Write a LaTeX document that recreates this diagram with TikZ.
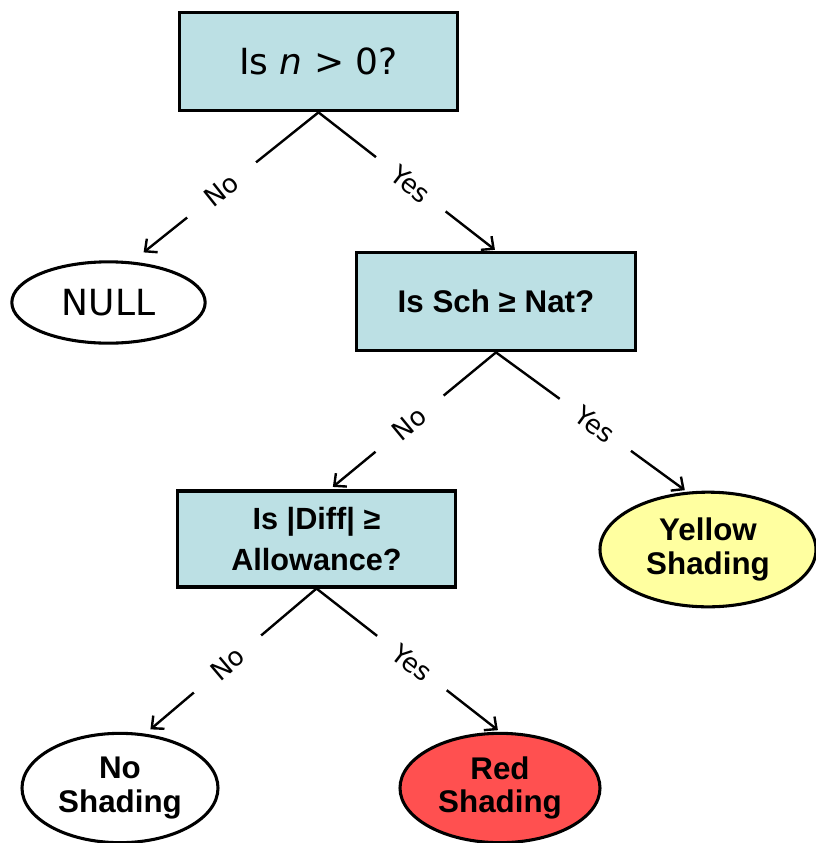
\documentclass[tikz,border=0pt]{standalone}
\usepackage{fontspec}
\setmainfont{DejaVu Sans}
\newfontfamily\headfont{Liberation Sans}
\usetikzlibrary{arrows.meta,shapes.geometric}

\definecolor{boxblue}{RGB}{188,224,228}
\definecolor{leafyellow}{RGB}{255,255,160}
\definecolor{leafred}{RGB}{255,80,80}

\tikzset{
	question/.style={rectangle, draw, line width=2.3pt, fill=boxblue, minimum width=209pt, minimum height=74pt, align=center},
	leaf/.style={ellipse, draw, line width=2.3pt, fill=white, align=center},
	strong/.style={font=\headfont\bfseries\fontsize{23.5}{25}\selectfont},
	link/.style={line width=1.8pt, -{Straight Barb[length=7pt,width=13pt]}},
	answer/.style={sloped, pos=0.52, fill=white, minimum width=66pt, inner sep=1pt, font=\fontsize{19.5}{21}\selectfont}
}

\begin{document}
\begin{tikzpicture}[x=0.75pt,y=-0.75pt]
	\useasboundingbox (0,0) rectangle (816,843);

	\node (qn) [question, font=\fontsize{27}{30}\selectfont] at (318.5, 61.5) {Is \textit{n} > 0?};
	\node (qsch) [question, strong] at (496, 301.5) {Is Sch ≥ Nat?};
	\node (qdiff) [question, strong, minimum height=72pt, font=\headfont\bfseries\fontsize{23}{31}\selectfont] at (316.5, 539) {Is |Diff| ≥\\Allowance?};

	\node (null) [leaf, minimum width=145pt, minimum height=61pt, font=\fontsize{27}{30}\selectfont] at (108.5, 302.5) {NULL};
	\node (yellow) [leaf, strong, fill=leafyellow, minimum width=162pt, minimum height=86pt] at (708, 549.5) {Yellow\\Shading};
	\node (noshade) [leaf, strong, minimum width=147pt, minimum height=82pt] at (120, 788) {No\\Shading};
	\node (red) [leaf, strong, fill=leafred, minimum width=150pt, minimum height=82pt] at (500, 788) {Red\\Shading};

	\path[link]
	(qn.south) edge[shorten >=11pt] node[answer] {No} (null.60)
	(qn.south) edge[shorten >=1pt] node[answer] {Yes} (qsch.north)
	(qsch.south) edge[shorten >=3pt] node[answer] {No} (qdiff.75)
	(qsch.south) edge[shorten >=2pt] node[answer] {Yes} (yellow.110)
	(qdiff.south) edge[shorten >=5pt] node[answer] {No} (noshade.65)
	(qdiff.south) edge[shorten >=2pt] node[answer] {Yes} (red.north);

\end{tikzpicture}
\end{document}
